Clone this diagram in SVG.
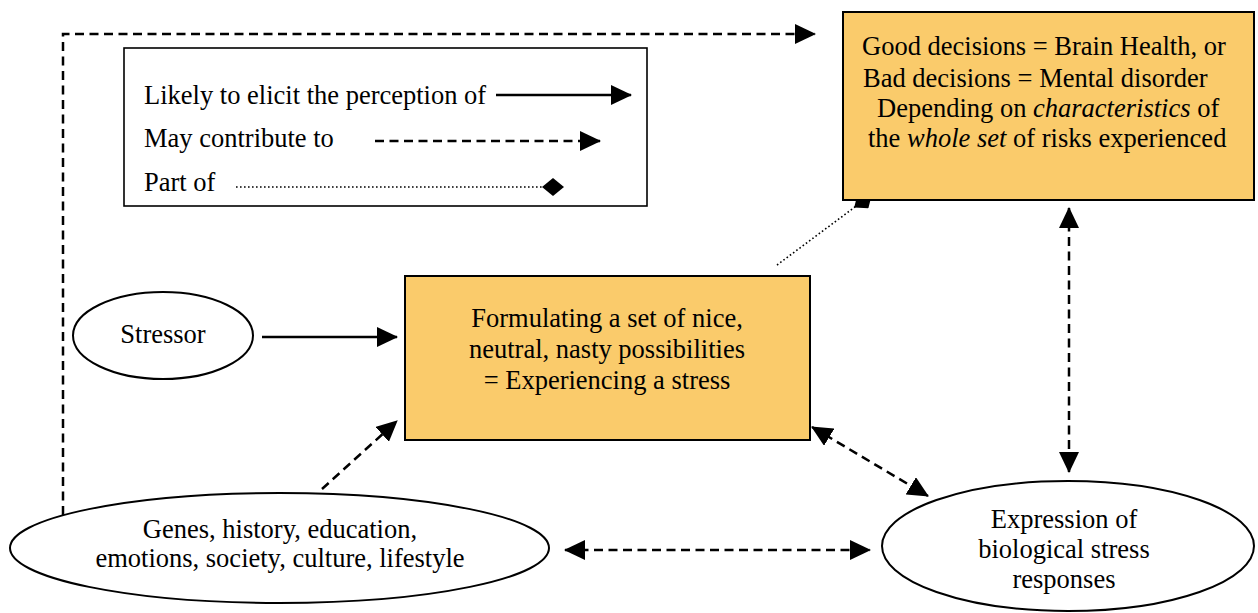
<svg xmlns="http://www.w3.org/2000/svg" width="1258" height="613" viewBox="0 0 1258 613" font-family="'Liberation Serif', 'Times New Roman', 'DejaVu Serif', serif">
<style>
text{font-family:'Liberation Serif','Times New Roman','DejaVu Serif',serif;font-size:26.5px;fill:#000}
.box{fill:#FACB6B;stroke:#000;stroke-width:2}
.oval{fill:#fff;stroke:#000;stroke-width:2}
.leg{fill:#fff;stroke:#000;stroke-width:1.6}
.solid{fill:none;stroke:#000;stroke-width:2.5}
.dash{fill:none;stroke:#000;stroke-width:2.5;stroke-dasharray:9 5.5}
.dot{fill:none;stroke:#000;stroke-width:1.6;stroke-dasharray:1.6 2.4}
.c{text-anchor:middle}
</style>
<defs>
<marker id="arr" viewBox="0 0 21 20" refX="20" refY="10" markerWidth="21" markerHeight="20" markerUnits="userSpaceOnUse" orient="auto-start-reverse">
<path d="M0,0 L21,10 L0,20 z" fill="#000"/>
</marker>
<marker id="dia" viewBox="0 0 22 18" refX="11" refY="9" markerWidth="22" markerHeight="18" markerUnits="userSpaceOnUse" orient="auto">
<path d="M0,9 L11,0 L22,9 L11,18 z" fill="#000"/>
</marker>
<marker id="diaEnd" viewBox="0 0 22 18" refX="22" refY="9" markerWidth="22" markerHeight="18" markerUnits="userSpaceOnUse" orient="auto">
<path d="M0,9 L11,0 L22,9 L11,18 z" fill="#000"/>
</marker>
</defs>

<g id="connectors">
<path class="dash" d="M63,515 V34 H815" marker-end="url(#arr)"/>
<path class="solid" d="M262,337 L397,337" marker-end="url(#arr)"/>
<path class="dash" d="M322,489 L397,421" marker-end="url(#arr)"/>
<path class="dash" d="M812,427 L928,496" marker-start="url(#arr)" marker-end="url(#arr)"/>
<path class="dash" d="M1069,208 L1069,472" marker-start="url(#arr)" marker-end="url(#arr)"/>
<path class="dash" d="M565,550 L870,550" marker-start="url(#arr)" marker-end="url(#arr)"/>
<path class="dot" d="M777,265 L863,201" marker-end="url(#dia)"/>
</g>

<g id="legend">
<rect class="leg" x="124" y="48" width="523" height="158"/>
<text x="144" y="104">Likely to elicit the perception of</text>
<path class="solid" d="M496,95 L631,95" marker-end="url(#arr)"/>
<text x="144" y="147">May contribute to</text>
<path class="dash" d="M375,141 L600,141" marker-end="url(#arr)"/>
<text x="144" y="191">Part of</text>
<path class="dot" d="M236,187 L564,187" marker-end="url(#diaEnd)"/>
</g>

<g id="outcome">
<rect class="box" x="843" y="12" width="411" height="188"/>
<text x="862" y="55">Good decisions = Brain Health, or</text>
<text x="863" y="87">Bad decisions = Mental disorder</text>
<text x="877" y="117">Depending on <tspan font-style="italic">characteristics</tspan> of</text>
<text x="868" y="147">the <tspan font-style="italic">whole set</tspan> of risks experienced</text>
</g>

<g id="stress">
<rect class="box" x="405" y="276" width="405" height="164"/>
<text class="c" x="607" y="327">Formulating a set of nice,</text>
<text class="c" x="607" y="358">neutral, nasty possibilities</text>
<text class="c" x="607" y="389">= Experiencing a stress</text>
</g>

<g id="stressor">
<ellipse class="oval" cx="163" cy="335.5" rx="90" ry="43.5"/>
<text class="c" x="163" y="343">Stressor</text>
</g>

<g id="genes">
<ellipse class="oval" cx="279.5" cy="548" rx="269.5" ry="55"/>
<text class="c" x="280" y="538">Genes, history, education,</text>
<text class="c" x="280" y="567">emotions, society, culture, lifestyle</text>
</g>

<g id="expression">
<ellipse class="oval" cx="1068" cy="546" rx="186" ry="65"/>
<text class="c" x="1064" y="528">Expression of</text>
<text class="c" x="1064" y="558">biological stress</text>
<text class="c" x="1064" y="588">responses</text>
</g>
</svg>
